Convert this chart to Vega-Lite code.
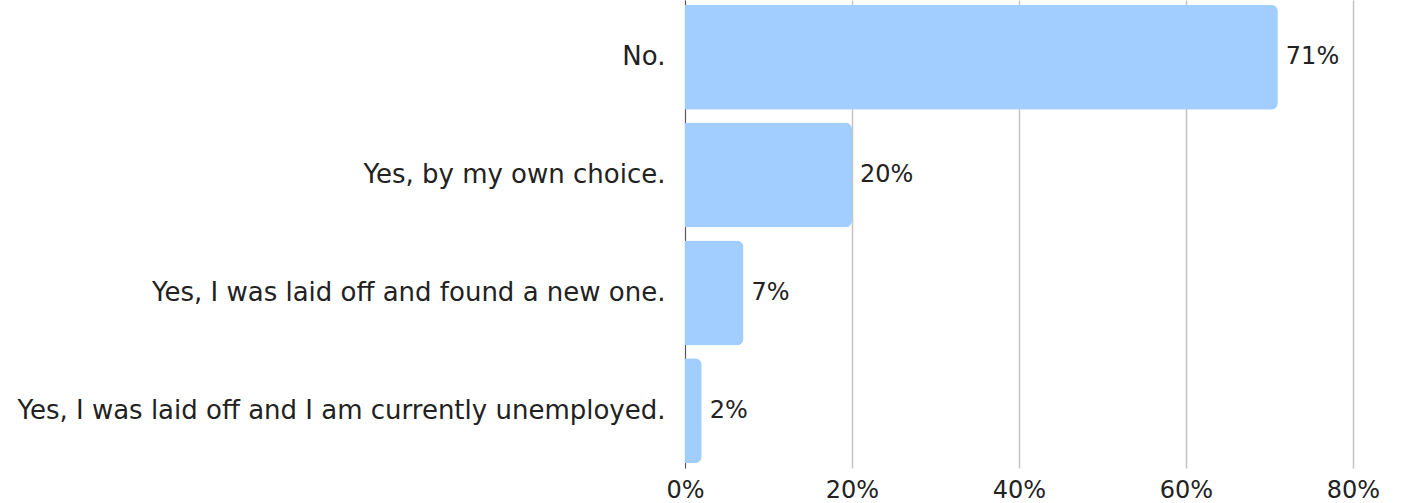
{
  "$schema": "https://vega.github.io/schema/vega-lite/v6.json",
  "autosize": {"type": "none"},
  "width": 668,
  "height": 468,
  "padding": {"left": 685, "top": 0, "right": 48, "bottom": 35},
  "config": {
    "view": {"stroke": null},
    "font": "DejaVu Sans"
  },
  "data": {
    "values": [
      {"answer": "No.", "share": 0.71},
      {"answer": "Yes, by my own choice.", "share": 0.20},
      {"answer": "Yes, I was laid off and found a new one.", "share": 0.07},
      {"answer": "Yes, I was laid off and I am currently unemployed.", "share": 0.02}
    ]
  },
  "encoding": {
    "y": {
      "field": "answer",
      "type": "nominal",
      "sort": null,
      "title": null,
      "scale": {"paddingInner": 0.11, "paddingOuter": 0.04},
      "axis": {
        "ticks": false,
        "domain": true,
        "domainColor": "#555555",
        "domainWidth": 1,
        "labelFontSize": 26,
        "labelColor": "#222222",
        "labelPadding": 20,
        "labelLimit": 700,
        "labelFont": "DejaVu Sans"
      }
    },
    "x": {
      "field": "share",
      "type": "quantitative",
      "title": null,
      "scale": {"domain": [0, 0.8]},
      "axis": {
        "format": ".0%",
        "values": [0, 0.2, 0.4, 0.6, 0.8],
        "ticks": false,
        "domain": false,
        "grid": true,
        "gridColor": "#c4c4c4",
        "gridWidth": 1.5,
        "labelFontSize": 24,
        "labelColor": "#222222",
        "labelPadding": 10,
        "labelFlush": false,
        "labelOverlap": false,
        "labelFont": "DejaVu Sans"
      }
    }
  },
  "layer": [
    {
      "mark": {"type": "bar", "color": "#a1cefe", "cornerRadiusEnd": 7}
    },
    {
      "mark": {"type": "text", "align": "left", "baseline": "middle", "dx": 8, "fontSize": 24, "color": "#222222", "font": "DejaVu Sans"},
      "encoding": {
        "text": {"field": "share", "type": "quantitative", "format": ".0%"}
      }
    }
  ]
}
